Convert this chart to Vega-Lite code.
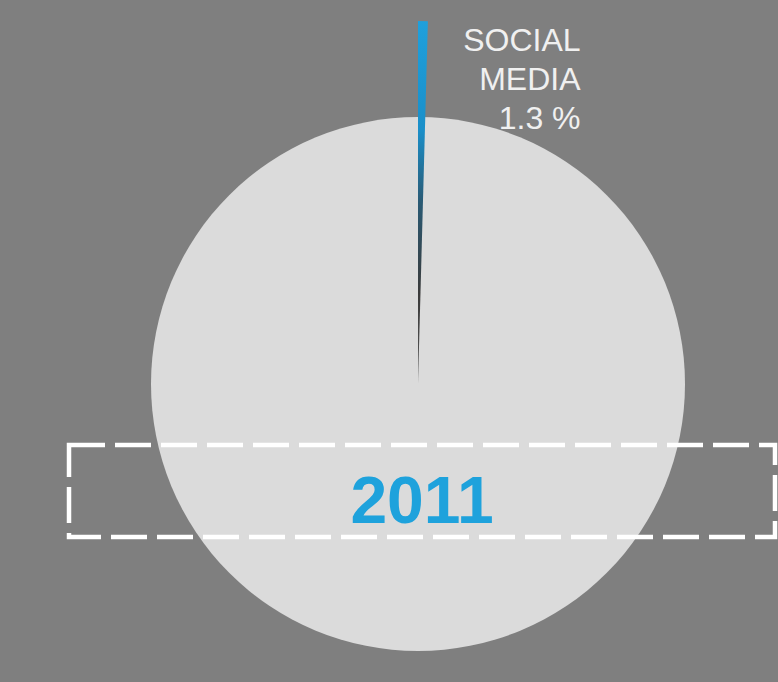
{
  "$schema": "https://vega.github.io/schema/vega-lite/v6.json",
  "width": 714,
  "height": 596,
  "autosize": {"type": "none"},
  "padding": {"left": 61, "top": 86, "right": 3, "bottom": 0},
  "background": "#7f7f7f",
  "config": {"view": {"stroke": null}},
  "data": {
    "values": [
      {"category": "SOCIAL MEDIA", "share": 1.3, "year": "2011", "label": "SOCIAL\nMEDIA\n1.3 %"},
      {"category": "OTHER", "share": 98.7, "year": "2011", "label": ""}
    ]
  },
  "layer": [
    {
      "transform": [{"filter": "datum.category === 'OTHER'"}],
      "mark": {"type": "arc", "radius": 267, "color": "#dbdbdb"},
      "encoding": {}
    },
    {
      "transform": [{"filter": "datum.category === 'SOCIAL MEDIA'"}],
      "mark": {
        "type": "arc",
        "radius": 363,
        "radius2": 0,
        "color": {
          "gradient": "linear",
          "x1": 0, "y1": 0, "x2": 0, "y2": 1,
          "stops": [
            {"offset": 0, "color": "#1fa0dc"},
            {"offset": 0.3, "color": "#1a8fc9"},
            {"offset": 0.5, "color": "#2a5a74"},
            {"offset": 0.75, "color": "#3a3a3a"},
            {"offset": 1, "color": "#5a5a5a"}
          ]
        }
      },
      "encoding": {
        "theta": {"field": "share", "type": "quantitative", "stack": true, "scale": {"domain": [0, 300]}}
      }
    },
    {
      "transform": [{"filter": "datum.category === 'SOCIAL MEDIA'"}],
      "mark": {"type": "rect", "filled": false, "stroke": "#ffffff", "strokeWidth": 4.5, "strokeDash": [36, 10]},
      "encoding": {
        "x": {"field": "year", "type": "nominal", "axis": null, "scale": {"type": "band", "paddingInner": 0, "paddingOuter": 0.00567, "align": 1}},
        "y": {"field": "year", "type": "nominal", "axis": null, "scale": {"type": "band", "paddingInner": 0.6349, "paddingOuter": 1, "align": 0.7123}}
      }
    },
    {
      "transform": [{"filter": "datum.category === 'SOCIAL MEDIA'"}],
      "mark": {"type": "text", "font": "Liberation Sans", "fontWeight": "bold", "fontSize": 66, "color": "#1ea2dc", "baseline": "alphabetic", "dy": 32},
      "encoding": {
        "x": {"field": "year", "type": "nominal", "axis": null, "scale": {"type": "band", "paddingInner": 0, "paddingOuter": 0.00567, "align": 1}},
        "y": {"field": "year", "type": "nominal", "axis": null, "scale": {"type": "band", "paddingInner": 0.6349, "paddingOuter": 1, "align": 0.7123}},
        "text": {"field": "year", "type": "nominal"}
      }
    },
    {
      "transform": [{"filter": "datum.category === 'SOCIAL MEDIA'"}],
      "mark": {"type": "text", "font": "Liberation Sans", "fontSize": 32, "color": "#f0f0f0", "align": "right", "baseline": "alphabetic", "lineBreak": "\n", "lineHeight": 39, "radius": 333, "dx": 158},
      "encoding": {
        "theta": {"field": "share", "type": "quantitative", "stack": true, "scale": {"domain": [0, 300]}},
        "text": {"field": "label", "type": "nominal"}
      }
    }
  ]
}
